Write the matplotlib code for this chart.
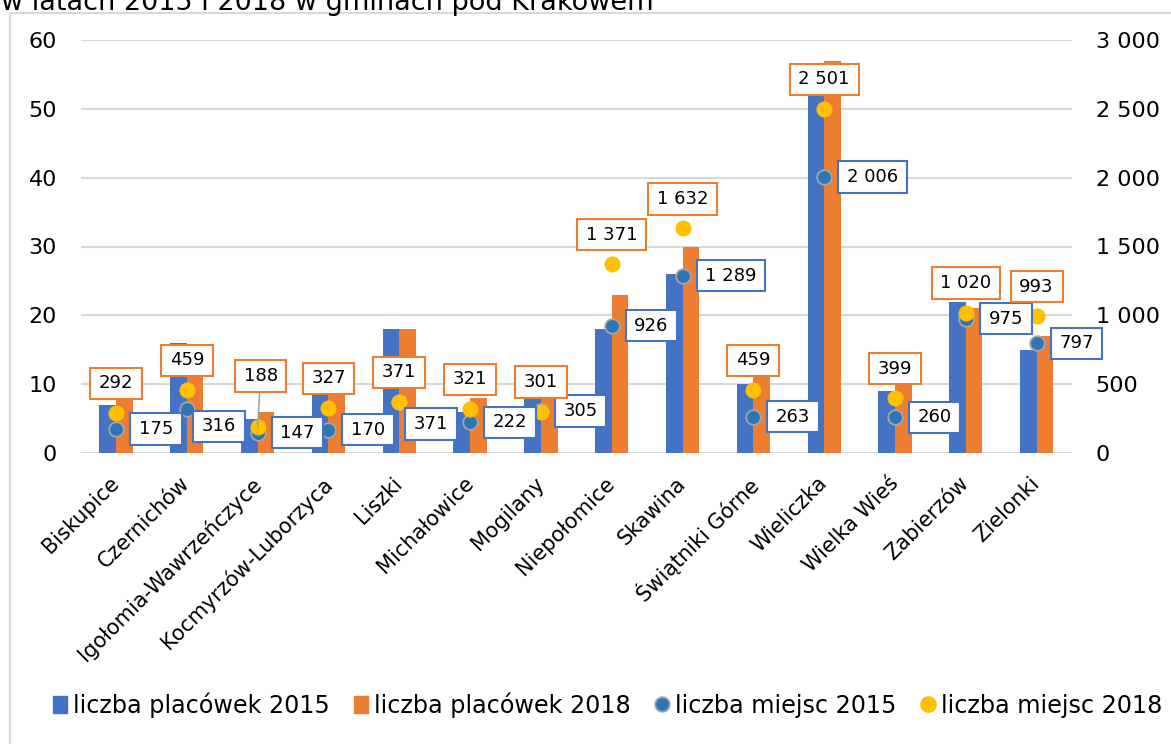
import matplotlib
matplotlib.use("Agg")
import matplotlib.pyplot as plt
from matplotlib.path import Path
from matplotlib.patches import Rectangle, Patch
from matplotlib.lines import Line2D
from matplotlib.ticker import FuncFormatter, MultipleLocator
import matplotlib.transforms as mtrans
import numpy as np

# ---------------- data ----------------
categories = ["Biskupice", "Czernichów", "Igołomia-Wawrzeńczyce", "Kocmyrzów-Luborzyca",
              "Liszki", "Michałowice", "Mogilany", "Niepołomice", "Skawina",
              "Świątniki Górne", "Wieliczka", "Wielka Wieś", "Zabierzów", "Zielonki"]
placowki_2015 = [7, 16, 5, 9, 18, 6, 8, 18, 26, 10, 54, 9, 22, 15]
placowki_2018 = [8, 14, 6, 9, 18, 8, 9, 23, 30, 12, 57, 11, 21, 17]
miejsca_2015 = [175, 316, 147, 170, 371, 222, 305, 926, 1289, 263, 2006, 260, 975, 797]
miejsca_2018 = [292, 459, 188, 327, 371, 321, 301, 1371, 1632, 459, 2501, 399, 1020, 993]
series_names = ["liczba placówek 2015", "liczba placówek 2018",
                "liczba miejsc 2015", "liczba miejsc 2018"]
title_text = "w latach 2015 i 2018 w gminach pod Krakowem"

# ---------------- style ----------------
C_BLUE = "#4472C4"
C_ORANGE = "#ED7D31"
C_DOT15 = "#2E75B6"
C_DOT18 = "#FFC000"
C_GRID = "#D9D9D9"
plt.rcParams["font.family"] = ["DejaVu Sans"]

W, H = 1171, 744
fig = plt.figure(figsize=(W / 100, H / 100), dpi=100)
ax = fig.add_axes([80.6 / W, 1 - 453 / H, (1072 - 80.6) / W, 413 / H])
ax2 = ax.twinx()

x = np.arange(len(categories))
bw = 0.235
ax.bar(x - bw / 2, placowki_2015, bw, color=C_BLUE, zorder=2)
ax.bar(x + bw / 2, placowki_2018, bw, color=C_ORANGE, zorder=2)
ax.set_xlim(-0.5, len(categories) - 0.5)
ax.set_ylim(0, 60)
ax.yaxis.set_major_locator(MultipleLocator(10))
ax.grid(axis="y", color=C_GRID, lw=1.5, zorder=0)
ax.set_axisbelow(True)

ax2.set_ylim(0, 3000)
ax2.yaxis.set_major_locator(MultipleLocator(500))
ax2.yaxis.set_major_formatter(FuncFormatter(lambda v, p: f"{int(v):,}".replace(",", " ")))

for a in (ax, ax2):
    for s in a.spines.values():
        s.set_visible(False)
ax.tick_params(axis="both", length=0)
ax.tick_params(axis="y", labelsize=16, pad=17)
ax2.tick_params(axis="y", length=0, labelsize=16, pad=17)

ax.set_xticks(x)
ax.set_xticklabels(categories, rotation=45, ha="right", va="top",
                   rotation_mode="anchor", fontsize=15)
ax.tick_params(axis="x", pad=14.5)
for lbl in ax.get_xticklabels():
    lbl.set_transform(lbl.get_transform() +
                      mtrans.ScaledTranslation(-5 / 72, 0, fig.dpi_scale_trans))

ax2.plot(x, miejsca_2015, "o", ls="none", ms=10.5, mfc=C_DOT15, mec="#A5A5A5",
         mew=1.3, zorder=3)
ax2.plot(x, miejsca_2018, "o", ls="none", ms=11, mfc=C_DOT18, mec=C_DOT18,
         mew=0.5, zorder=4)


# ---------------- data labels ----------------
class PadBox:
    def __init__(self, padx, pady):
        self.padx, self.pady = padx, pady

    def __call__(self, x0, y0, width, height, mutation_size):
        px = self.padx * mutation_size
        py = self.pady * mutation_size
        xa, ya = x0 - px, y0 - py
        xb, yb = x0 + width + px, y0 + height + py
        return Path([(xa, ya), (xb, ya), (xb, yb), (xa, yb), (xa, ya)], closed=True)


def fmt(v):
    return f"{v:,}".replace(",", " ")


LBL_FS = 13
box = PadBox(0.48, 0.37)
padx_px = 0.48 * LBL_FS * 100 / 72

# custom offsets (pixels, centre of box relative to point) for a few labels
over_2015 = {1: (32, -17), 4: (32, -22)}
over_2018 = {2: (3, 51)}

for i, v in enumerate(miejsca_2015):
    if i in over_2015:
        off, ha = over_2015[i], "center"
    else:
        off, ha = (14 + padx_px, 0), "left"
    ax2.annotate(fmt(v), (i, v), xytext=off, textcoords="offset pixels",
                 ha=ha, va="center", fontsize=LBL_FS, zorder=6,
                 annotation_clip=False,
                 bbox=dict(boxstyle=box, fc="white", ec=C_BLUE, lw=1.5))

for i, v in enumerate(miejsca_2018):
    off = over_2018.get(i, (0, 29.5))
    kw = {}
    if i in over_2018:
        kw["arrowprops"] = dict(arrowstyle="-", color="#A5A5A5", lw=1.2,
                                shrinkA=0, shrinkB=0)
    ax2.annotate(fmt(v), (i, v), xytext=off, textcoords="offset pixels",
                 ha="center", va="center", fontsize=LBL_FS, zorder=7,
                 annotation_clip=False,
                 bbox=dict(boxstyle=box, fc="white", ec=C_ORANGE, lw=1.5), **kw)

# ---------------- legend ----------------
handles = [
    Patch(color=C_BLUE),
    Patch(color=C_ORANGE),
    Line2D([], [], ls="none", marker="o", ms=10.5, mfc=C_DOT15, mec="#A5A5A5", mew=1.3),
    Line2D([], [], ls="none", marker="o", ms=11, mfc=C_DOT18, mec=C_DOT18),
]
fig.legend(handles, series_names, loc="center", bbox_to_anchor=(0.5188, 1 - 705 / H),
           ncol=4, frameon=False, fontsize=17.2, handlelength=0.6,
           handletextpad=0.25, columnspacing=1.0, borderpad=0)

# ---------------- title (cut off) and chart border ----------------
fig.text(1 / W, 1 - 10 / H, title_text, fontsize=19.5, ha="left", va="baseline")
fig.add_artist(Rectangle((9.5 / W, -0.05), 1.2, (1 - 13 / H) + 0.05,
                         transform=fig.transFigure, fill=False, ec=C_GRID, lw=1.5))

fig.savefig("out.png", dpi=100)
